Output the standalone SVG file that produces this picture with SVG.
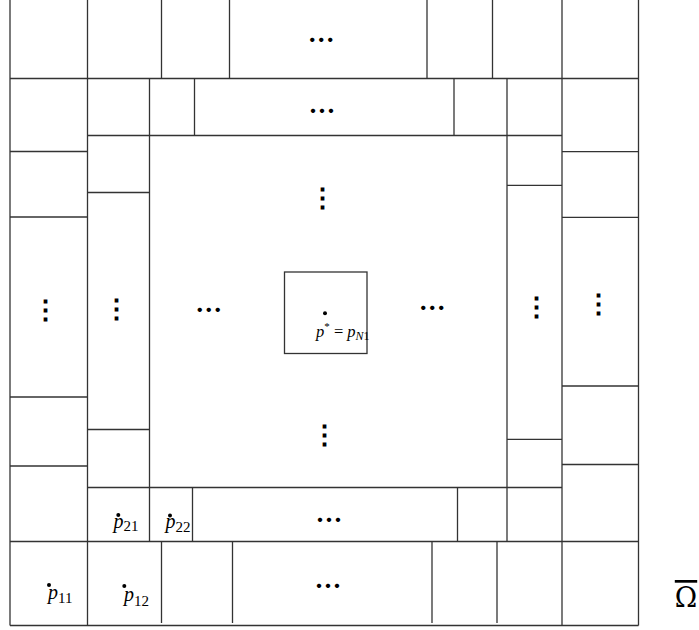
<svg xmlns="http://www.w3.org/2000/svg" width="699" height="630" viewBox="0 0 699 630">
<style>
.ln{stroke:#333;stroke-width:1.3;fill:none}
.dots{font-family:"Noto Sans CJK SC",sans-serif;font-size:27px;font-weight:bold;fill:#000;text-anchor:middle}
.m{font-family:"Liberation Serif","DejaVu Serif",serif;fill:#000}
.it{font-style:italic}
</style>
<rect width="699" height="630" fill="#fff"/>
<g id="connectors" class="ln">
<line x1="10" y1="0" x2="10" y2="625.5"/>
<line x1="638.5" y1="0" x2="638.5" y2="625.5"/>
<line x1="10" y1="625.5" x2="638.5" y2="625.5"/>
<line x1="10" y1="78.5" x2="638.5" y2="78.5"/>
<line x1="10" y1="541.5" x2="638.5" y2="541.5"/>
<line x1="87.5" y1="135.5" x2="562" y2="135.5"/>
<line x1="87.5" y1="487.5" x2="562" y2="487.5"/>
<line x1="87.5" y1="0" x2="87.5" y2="625.5"/>
<line x1="562" y1="0" x2="562" y2="625.5"/>
<line x1="149.5" y1="78.5" x2="149.5" y2="541.5"/>
<line x1="507" y1="78.5" x2="507" y2="541.5"/>
<line x1="161.5" y1="0" x2="161.5" y2="78.5"/>
<line x1="229.5" y1="0" x2="229.5" y2="78.5"/>
<line x1="427" y1="0" x2="427" y2="78.5"/>
<line x1="492.5" y1="0" x2="492.5" y2="78.5"/>
<line x1="194.5" y1="78.5" x2="194.5" y2="135.5"/>
<line x1="454" y1="78.5" x2="454" y2="135.5"/>
<line x1="192.5" y1="487.5" x2="192.5" y2="541.5"/>
<line x1="457.5" y1="487.5" x2="457.5" y2="541.5"/>
<line x1="161.5" y1="541.5" x2="161.5" y2="623"/>
<line x1="232.5" y1="541.5" x2="232.5" y2="623"/>
<line x1="432" y1="541.5" x2="432" y2="623"/>
<line x1="497" y1="541.5" x2="497" y2="623"/>
<line x1="10" y1="151.5" x2="87.5" y2="151.5"/>
<line x1="10" y1="217" x2="87.5" y2="217"/>
<line x1="10" y1="397" x2="87.5" y2="397"/>
<line x1="10" y1="466" x2="87.5" y2="466"/>
<line x1="87.5" y1="192.5" x2="149.5" y2="192.5"/>
<line x1="87.5" y1="429.5" x2="149.5" y2="429.5"/>
<line x1="507" y1="185.3" x2="562" y2="185.3"/>
<line x1="507" y1="439.3" x2="562" y2="439.3"/>
<line x1="562" y1="151.7" x2="638.5" y2="151.7"/>
<line x1="562" y1="217.3" x2="638.5" y2="217.3"/>
<line x1="562" y1="386" x2="638.5" y2="386"/>
<line x1="562" y1="464.5" x2="638.5" y2="464.5"/>
</g>
<g id="center-box">
<rect class="ln" x="284.5" y="272" width="82.5" height="81.5"/>
<circle cx="325" cy="313.3" r="2" fill="#000"/>
<text class="m" x="316" y="337" font-size="16.5"><tspan class="it">p</tspan><tspan font-size="11" dy="-7">*</tspan><tspan dy="7"> = </tspan><tspan class="it">p</tspan><tspan class="it" font-size="12" dy="3">N</tspan><tspan font-size="12">1</tspan></text>
</g>
<g id="ellipses" class="dots">
<text x="321.3" y="49.5">⋯</text>
<text x="322" y="120.5">⋯</text>
<text x="322.7" y="206.5">⋮</text>
<text x="324.3" y="444">⋮</text>
<text x="329" y="529.8">⋯</text>
<text x="328" y="595.5">⋯</text>
<text x="45.7" y="319">⋮</text>
<text x="116.3" y="317.5">⋮</text>
<text x="208.8" y="319.5">⋯</text>
<text x="432.3" y="317.8">⋯</text>
<text x="536.7" y="316">⋮</text>
<text x="598.7" y="313">⋮</text>
</g>
<g id="p21"><circle cx="118.3" cy="515" r="2" fill="#000"/><text class="m" x="113.5" y="528" font-size="20"><tspan class="it">p</tspan><tspan font-size="15" dy="3">21</tspan></text></g>
<g id="p22"><circle cx="170" cy="515.5" r="2" fill="#000"/><text class="m" x="165.5" y="527.5" font-size="20"><tspan class="it">p</tspan><tspan font-size="15" dy="4">22</tspan></text></g>
<g id="p11"><circle cx="49" cy="585" r="2" fill="#000"/><text class="m" x="48" y="598.5" font-size="20"><tspan class="it">p</tspan><tspan font-size="15" dy="4">11</tspan></text></g>
<g id="p12"><circle cx="124.3" cy="586" r="2" fill="#000"/><text class="m" x="124" y="600.5" font-size="20"><tspan class="it">p</tspan><tspan font-size="15" dy="5">12</tspan></text></g>
<g id="omega"><text x="686" y="607" font-size="27" text-anchor="middle" font-family="'DejaVu Serif',serif" text-decoration="overline">Ω</text></g>
</svg>
